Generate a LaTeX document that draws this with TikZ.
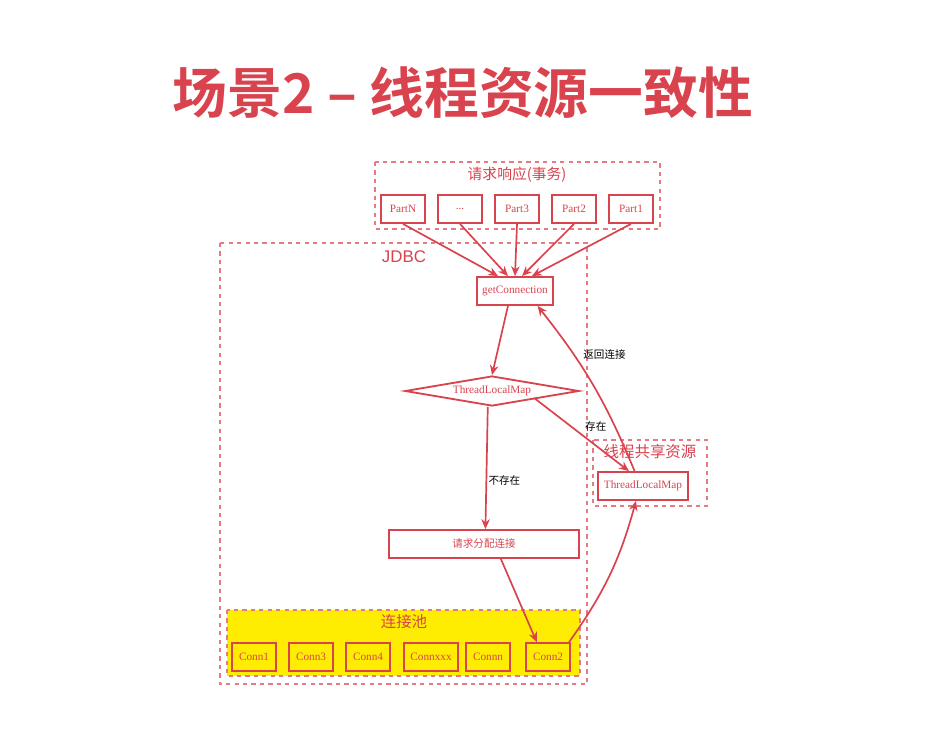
\documentclass[tikz,border=0pt]{standalone}
\usepackage{fontspec}
\setmainfont{Liberation Serif}
\setsansfont{Liberation Sans}
\newfontfamily\cjk{Noto Sans CJK SC}
\newfontfamily\cjkbold{Noto Sans CJK SC Bold}
\usetikzlibrary{shapes.geometric,arrows.meta}
\definecolor{myred}{HTML}{D9434E}
\tikzset{
  box/.style={draw=myred,line width=1.3pt,text=myred,font=\fontsize{8}{9}\selectfont,minimum height=0.7cm,inner sep=1pt},
  group/.style={draw=myred!70,dashed,thick},
  arr/.style={draw=myred,line width=1.2pt,-{Stealth[length=7pt,width=6pt]}},
  lbl/.style={font=\cjk\fontsize{7.5}{8}\selectfont,text=black,inner sep=1pt}
}
\begin{document}
\begin{tikzpicture}[x=0.025cm,y=-0.025cm]
\useasboundingbox[fill=white] (0,0) rectangle (944,741);
\node[text=myred,font=\cjkbold\fontsize{39}{42}\selectfont] (title) at (463,93) {场景2 – 线程资源一致性};
% groups
\draw[group] (375,162) rectangle (660,229);
\node[text=myred,font=\cjk\fontsize{10.5}{12}\selectfont] (req) at (517,175) {请求响应(事务)};
\draw[group] (220,243) rectangle (587,684);
\node[text=myred,font=\sffamily\fontsize{12}{13}\selectfont] (jdbc) at (404,257) {JDBC};
\draw[group] (593,440) rectangle (707,506);
\node[text=myred,font=\cjk\fontsize{11}{12}\selectfont] (share) at (650,452) {线程共享资源};
\draw[group,fill=yellow!95!orange] (227,610) rectangle (580,676);
\node[text=myred,font=\cjk\fontsize{11}{12}\selectfont] (pool) at (404,622) {连接池};
% parts
\node[box,minimum width=1.1cm] (pN) at (403,209) {PartN};
\node[box,minimum width=1.1cm] (pd) at (460,209) {...};
\node[box,minimum width=1.1cm] (p3) at (517,209) {Part3};
\node[box,minimum width=1.1cm] (p2) at (574,209) {Part2};
\node[box,minimum width=1.1cm] (p1) at (631,209) {Part1};
\node[box,minimum width=1.9cm] (getc) at (515,291) {getConnection};
\node[draw=myred,line width=1.3pt,diamond,aspect=5.8,text=myred,font=\fontsize{8}{9}\selectfont,minimum width=4.35cm,minimum height=0.75cm,inner sep=0pt] (tlm) at (492,391) {ThreadLocalMap};
\node[box,minimum width=2.25cm] (tlm2) at (643,486) {ThreadLocalMap};
\node[box,font=\cjk\fontsize{7.5}{8}\selectfont,minimum width=4.75cm] (alloc) at (484,544) {请求分配连接};
% connections
\foreach \n/\x in {1/254,3/311,4/368,n/488,2/548}
  \node[box,minimum width=1.1cm] (c\n) at (\x,657) {Conn\n};
\node[box,minimum width=1.35cm] (cx) at (431,657) {Connxxx};
% arrows
\draw[arr] (pN.south) -- ([xshift=-12pt]getc.north);
\draw[arr] (pd.south) -- ([xshift=-5pt]getc.north);
\draw[arr] (p3.south) -- (getc.north);
\draw[arr] (p2.south) -- ([xshift=5pt]getc.north);
\draw[arr] (p1.south) -- ([xshift=12pt]getc.north);
\draw[arr] ([xshift=-5pt]getc.south) -- (tlm.north);
\draw[arr] ([xshift=-3pt]tlm.south) -- node[lbl,right,pos=0.6] {不存在} ([xshift=1pt]alloc.north);
\draw[arr] ([xshift=30pt,yshift=-5pt]tlm.center) -- node[lbl,above right,pos=0.5,inner sep=2pt] {存在} ([xshift=-10pt]tlm2.north);
\draw[arr] ([xshift=-6pt]tlm2.north) to[bend right=8] node[lbl,pos=0.7,xshift=22pt] {返回连接} ([xshift=16pt]getc.south);
\draw[arr] ([xshift=12pt]alloc.south) -- ([xshift=-8pt]c2.north);
\draw[arr] ([xshift=15pt]c2.north) to[bend right=10] ([xshift=-5pt]tlm2.south);
\end{tikzpicture}
\end{document}
